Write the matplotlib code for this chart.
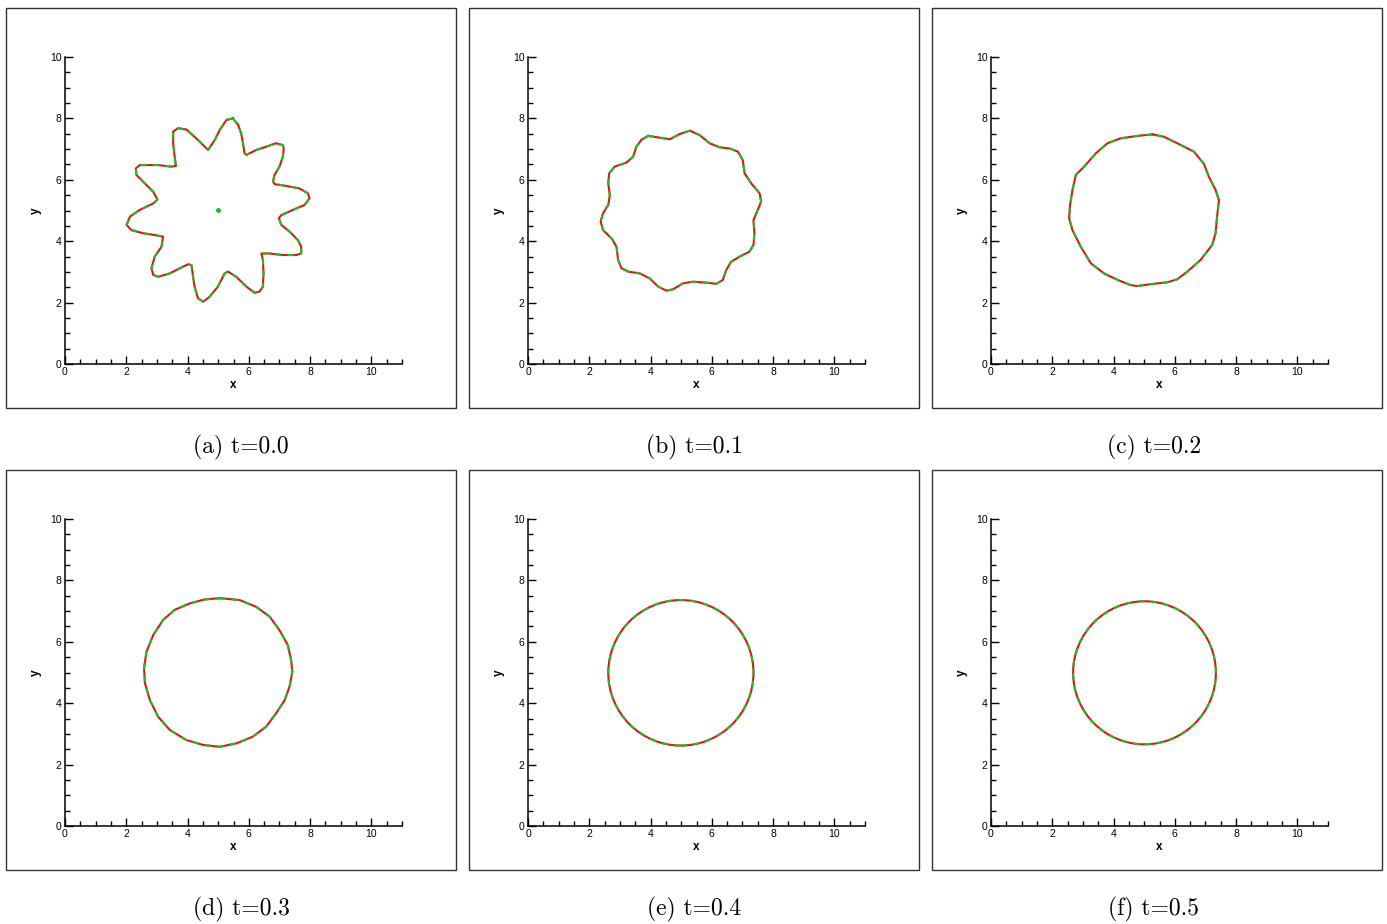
import matplotlib
matplotlib.use("Agg")
import matplotlib.pyplot as plt
from matplotlib.patches import Rectangle, Circle
from matplotlib.ticker import MultipleLocator

# ============================================
# DATA (interface points)
# ============================================

captions = ["(a) t=0.0", "(b) t=0.1", "(c) t=0.2", "(d) t=0.3", "(e) t=0.4", "(f) t=0.5"]

# t=0.0 : ten-lobed star
a_x = [5.48, 5.65, 5.75, 5.81, 5.86, 5.92, 6.24, 6.57, 6.89, 7.11, 7.14, 7.11, 7.00, 6.84,
       6.79, 6.84, 7.22, 7.65, 7.93, 7.98, 7.82, 7.44, 7.06, 6.98, 7.06, 7.33, 7.60, 7.71,
       7.71, 7.55, 7.11, 6.68, 6.41, 6.46, 6.48, 6.46, 6.35, 6.19, 5.92, 5.59, 5.32, 5.21,
       4.99, 4.72, 4.51, 4.34, 4.23, 4.18, 4.13, 4.02, 3.75, 3.42, 3.04, 2.88, 2.82, 2.93,
       3.15, 3.20, 2.93, 2.55, 2.17, 2.01, 2.12, 2.44, 2.88, 3.02, 2.88, 2.61, 2.33, 2.31,
       2.44, 3.04, 3.47, 3.62, 3.58, 3.53, 3.53, 3.69, 3.96, 4.23, 4.45, 4.67, 4.89, 5.05,
       5.27]
a_y = [8.00, 7.79, 7.51, 7.19, 6.86, 6.81, 6.97, 7.08, 7.19, 7.13, 7.02, 6.75, 6.43, 6.16,
       5.94, 5.86, 5.80, 5.72, 5.56, 5.40, 5.18, 5.02, 4.85, 4.75, 4.53, 4.31, 4.04, 3.82,
       3.60, 3.55, 3.55, 3.60, 3.60, 3.39, 2.95, 2.52, 2.36, 2.32, 2.52, 2.84, 3.01, 2.95,
       2.52, 2.19, 2.03, 2.14, 2.52, 2.84, 3.22, 3.25, 3.12, 2.95, 2.84, 2.90, 3.12, 3.50,
       3.82, 4.15, 4.20, 4.26, 4.36, 4.53, 4.80, 5.02, 5.23, 5.36, 5.61, 5.88, 6.16, 6.37,
       6.48, 6.48, 6.43, 6.45, 6.75, 7.19, 7.57, 7.68, 7.64, 7.40, 7.19, 6.97, 7.30, 7.62,
       7.95]
center_dot = (4.99, 5.02)

# t=0.1 : wavy ring
b_x = [3.92, 4.25, 4.63, 4.95, 5.28, 5.60, 5.93, 6.25, 6.58, 6.85, 7.01, 7.07, 7.29, 7.56,
       7.61, 7.50, 7.36, 7.39, 7.36, 7.23, 6.91, 6.63, 6.47, 6.36, 6.15, 5.82, 5.39, 5.06,
       4.73, 4.52, 4.25, 3.97, 3.65, 3.27, 3.05, 2.94, 2.89, 2.73, 2.45, 2.37, 2.45, 2.62,
       2.67, 2.62, 2.65, 2.83, 3.21, 3.43, 3.54, 3.70]
b_y = [7.43, 7.38, 7.32, 7.49, 7.60, 7.46, 7.19, 7.06, 7.02, 6.92, 6.64, 6.21, 5.88, 5.56,
       5.29, 5.02, 4.69, 4.26, 3.88, 3.66, 3.50, 3.33, 3.06, 2.74, 2.61, 2.65, 2.68, 2.63,
       2.43, 2.39, 2.52, 2.79, 2.95, 3.01, 3.12, 3.39, 3.82, 4.09, 4.36, 4.64, 4.91, 5.18,
       5.50, 5.88, 6.21, 6.43, 6.56, 6.75, 7.08, 7.30]

# t=0.2 : slightly polygonal ring
c_x = [5.27, 4.78, 4.23, 3.80, 3.42, 3.04, 2.77, 2.66, 2.58, 2.55, 2.66, 2.93, 3.26, 3.69,
       4.13, 4.56, 4.78, 5.21, 5.75, 6.08, 6.41, 6.84, 7.22, 7.33, 7.38, 7.44, 7.33, 7.11,
       6.95, 6.62, 6.08, 5.65]
c_y = [7.48, 7.43, 7.35, 7.19, 6.86, 6.43, 6.16, 5.67, 5.18, 4.75, 4.36, 3.82, 3.28, 2.95,
       2.74, 2.57, 2.54, 2.60, 2.66, 2.76, 3.01, 3.39, 3.88, 4.26, 4.80, 5.34, 5.67, 6.10,
       6.52, 6.92, 7.19, 7.40]

# t=0.3 : nearly round
d_x = [5.05, 5.70, 6.24, 6.68, 7.00, 7.27, 7.38, 7.42, 7.33, 7.17, 6.89, 6.57, 6.13, 5.59,
       5.05, 4.51, 3.96, 3.42, 3.04, 2.77, 2.61, 2.58, 2.66, 2.88, 3.20, 3.58, 4.07, 4.56]
d_y = [7.42, 7.36, 7.14, 6.82, 6.38, 5.90, 5.41, 5.03, 4.54, 4.10, 3.67, 3.24, 2.91, 2.69,
       2.58, 2.64, 2.80, 3.13, 3.56, 4.10, 4.65, 5.14, 5.68, 6.22, 6.71, 7.04, 7.25, 7.38]

# t=0.4 and t=0.5 : circles (center, radius)
e_center, e_radius = (4.99, 4.99), 2.37
f_center, f_radius = (5.01, 4.99), 2.33

# ============================================
# FIGURE
# ============================================

W, H = 1387, 924
fig = plt.figure(figsize=(W / 100, H / 100), dpi=100)

RED = "#e0141c"
GREEN = "#19c21b"
tick_font = "Liberation Sans"


def px_rect(left, top, width, height):
    return [left / W, 1 - (top + height) / H, width / W, height / H]


def draw_curve(ax, xs, ys):
    xs = list(xs) + [xs[0]]
    ys = list(ys) + [ys[0]]
    ax.plot(xs, ys, color=RED, lw=1.5, solid_joinstyle="round", zorder=3)
    ax.plot(xs, ys, color=GREEN, lw=1.5, ls=(0, (3, 3)), zorder=4)


def draw_circle(ax, center, radius):
    ax.add_patch(Circle(center, radius, fill=False, ec=RED, lw=1.5, zorder=3))
    ax.add_patch(Circle(center, radius, fill=False, ec=GREEN, lw=1.5, ls=(0, (3, 3)), zorder=4))


caption_cx = [241, 694, 1154]
axes_list = []

for k in range(6):
    row, col = divmod(k, 3)

    # panel frame
    fig.add_artist(Rectangle(((6 + 463 * col) / W, 1 - (8 + 462 * row + 400) / H),
                             450 / W, 400 / H, transform=fig.transFigure,
                             fill=False, ec="#333333", lw=1.0))

    ax = fig.add_axes(px_rect(65 + 463 * col, 57 + 462 * row, 337, 307))
    ax.set_xlim(0, 11)
    ax.set_ylim(0, 10)
    ax.spines["top"].set_visible(False)
    ax.spines["right"].set_visible(False)
    ax.spines["left"].set_linewidth(1.1)
    ax.spines["bottom"].set_linewidth(1.1)
    ax.xaxis.set_major_locator(MultipleLocator(2))
    ax.xaxis.set_minor_locator(MultipleLocator(0.5))
    ax.yaxis.set_major_locator(MultipleLocator(2))
    ax.yaxis.set_minor_locator(MultipleLocator(0.5))
    ax.tick_params(which="major", direction="in", length=6, width=1.0, labelsize=7.5, pad=2.5)
    ax.tick_params(which="minor", direction="in", length=3.5, width=1.0)
    for lab in ax.get_xticklabels() + ax.get_yticklabels():
        lab.set_fontfamily(tick_font)
    ax.set_xlabel("x", fontsize=8.5, fontweight="bold", family=tick_font, labelpad=1)
    ax.set_ylabel("y", fontsize=8.5, fontweight="bold", family=tick_font, labelpad=6)
    axes_list.append(ax)

    fig.text(caption_cx[col] / W, 1 - (447 + 462 * row) / H, captions[k],
             ha="center", va="center", fontsize=17, family="cmr10")

draw_curve(axes_list[0], a_x, a_y)
axes_list[0].plot([center_dot[0]], [center_dot[1]], "o", color=GREEN, ms=2.5, zorder=5)
draw_curve(axes_list[1], b_x, b_y)
draw_curve(axes_list[2], c_x, c_y)
draw_curve(axes_list[3], d_x, d_y)
draw_circle(axes_list[4], e_center, e_radius)
draw_circle(axes_list[5], f_center, f_radius)

fig.savefig("out.png", dpi=100)
